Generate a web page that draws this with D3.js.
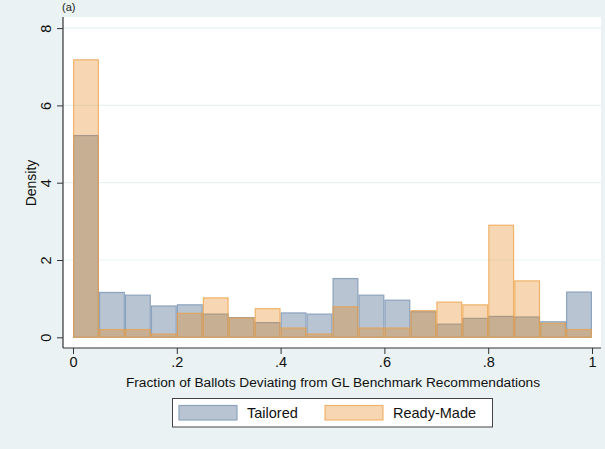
<!DOCTYPE html>
<html><head><meta charset="utf-8">
<script src="https://cdn.jsdelivr.net/npm/d3@7"></script>
<style>html,body{margin:0;padding:0;background:#eaf2f3;}svg{display:block;font-family:"Liberation Sans",Arial,Helvetica,sans-serif;}</style>
</head><body>
<svg id="c" width="605" height="449"></svg>
<script>
const binStarts = [0,0.05,0.1,0.15,0.2,0.25,0.3,0.35,0.4,0.45,0.5,0.55,0.6,0.65,0.7,0.75,0.8,0.85,0.9,0.95];
const binWidth = 0.05;
const tailored = [5.22,1.16,1.09,0.81,0.84,0.60,0.51,0.38,0.63,0.60,1.52,1.09,0.96,0.66,0.34,0.49,0.54,0.525,0.40,1.17];
const readyMade = [7.18,0.20,0.20,0.085,0.62,1.02,0.50,0.74,0.24,0.085,0.79,0.24,0.24,0.69,0.91,0.84,2.90,1.46,0.36,0.20];
const xTicks = [0,0.2,0.4,0.6,0.8,1];
const xTickLabels = ["0",".2",".4",".6",".8","1"];
const yTicks = [0,2,4,6,8];
const seriesNames = ["Tailored","Ready-Made"];

const svg = d3.select("#c");
svg.append("rect").attr("width",605).attr("height",449).attr("fill","#eaf2f3");
svg.append("text").attr("x",62).attr("y",11).attr("font-size",11).attr("fill","#222").text("(a)");

const x = d3.scaleLinear().domain([0,1]).range([73,592]);
const y = d3.scaleLinear().domain([0,8]).range([337.3,28.1]);

// plot region
svg.append("rect").attr("x",63).attr("y",17).attr("width",538).attr("height",331).attr("fill","#ffffff");

// grid
svg.append("g").selectAll("line").data(yTicks.filter(d=>d>0)).join("line")
  .attr("x1",63).attr("x2",601).attr("y1",d=>y(d)).attr("y2",d=>y(d))
  .attr("stroke","#eaf2f3").attr("stroke-width",1.2);

const styles = [
  {fill:"rgb(184,196,210)", op:1, stroke:"rgb(140,163,190)"},
  {fill:"rgb(230,130,20)", op:0.32, stroke:"rgba(236,160,70,0.75)"}
];
[tailored, readyMade].forEach((vals,i)=>{
  svg.append("g").selectAll("rect").data(vals).join("rect")
    .attr("x",(d,j)=>x(binStarts[j])+0.6)
    .attr("width",(d,j)=>x(binStarts[j]+binWidth)-x(binStarts[j])-1.2)
    .attr("y",d=>y(d))
    .attr("height",d=>y(0)-y(d))
    .attr("fill",styles[i].fill).attr("fill-opacity",styles[i].op)
    .attr("stroke",styles[i].stroke).attr("stroke-width",1.2);
});

// y axis
const ya = svg.append("g").attr("transform","translate(63,0)")
  .call(d3.axisLeft(y).tickValues(yTicks).tickFormat(d3.format("d")).tickSize(6).tickPadding(10));
ya.select(".domain").attr("d","M0,17V348").attr("stroke","#333").attr("stroke-width",1.2);
ya.selectAll(".tick line").attr("stroke","#333");
ya.selectAll(".tick text").attr("font-size",14.5).attr("fill","#111")
  .attr("text-anchor","middle").attr("transform","rotate(-90)").attr("x",0).attr("y",-12).attr("dy","0");

// x axis
const xa = svg.append("g").attr("transform","translate(0,348)")
  .call(d3.axisBottom(x).tickValues(xTicks).tickFormat((d,i)=>xTickLabels[i]).tickSize(6).tickPadding(3));
xa.select(".domain").attr("d","M63,0H601").attr("stroke","#333").attr("stroke-width",1.2);
xa.selectAll(".tick line").attr("stroke","#333");
xa.selectAll(".tick text").attr("font-size",14.5).attr("fill","#111");

// axis titles
svg.append("text").attr("transform","translate(36,183) rotate(-90)").attr("text-anchor","middle")
  .attr("font-size",14).attr("fill","#111").text("Density");
svg.append("text").attr("x",333).attr("y",387).attr("text-anchor","middle")
  .attr("font-size",13.7).attr("fill","#111").text("Fraction of Ballots Deviating from GL Benchmark Recommendations");

// legend
const lg = svg.append("g");
lg.append("rect").attr("x",172.5).attr("y",398.5).attr("width",320).attr("height",28.5)
  .attr("fill","#fff").attr("stroke","#444").attr("stroke-width",1);
const legX = [179,325];
seriesNames.forEach((n,i)=>{
  lg.append("rect").attr("x",legX[i]).attr("y",405.5).attr("width",58).attr("height",14.5)
    .attr("fill",styles[i].fill).attr("fill-opacity",styles[i].op)
    .attr("stroke",styles[i].stroke).attr("stroke-width",1.2);
  lg.append("text").attr("x",legX[i]+68).attr("y",418).attr("font-size",14.5).attr("fill","#111").text(n);
});
</script>
</body></html>
